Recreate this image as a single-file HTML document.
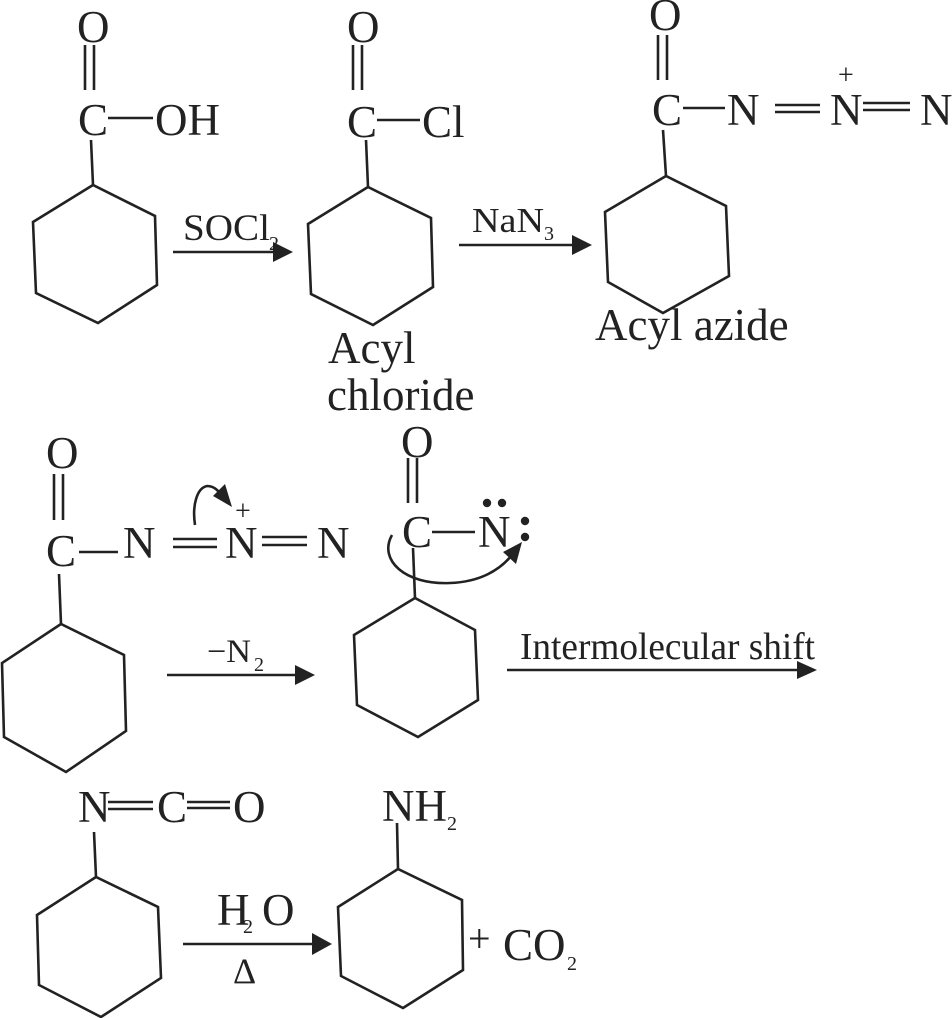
<!DOCTYPE html>
<html><head><meta charset="utf-8"><style>
html,body{margin:0;padding:0;background:#fff;}
svg{display:block;}
text{font-family:"Liberation Serif",serif;fill:#222;}
</style></head><body>
<svg width="952" height="1018" viewBox="0 0 952 1018" xmlns="http://www.w3.org/2000/svg">
<g stroke="#222" stroke-width="2.6" fill="none" stroke-linejoin="miter">
<polygon points="93,185 33,222 36,293 98,323 157,285 155,216"/>
<line x1="91" y1="140" x2="93" y2="185"/>
<line x1="85" y1="45" x2="85" y2="90"/><line x1="94" y1="45" x2="94" y2="90"/>
<line x1="108" y1="118" x2="153" y2="118"/>
<line x1="173" y1="252" x2="276" y2="252"/>
<polygon points="368,187 308,224 311,294 373,325 433,287 431,218"/>
<line x1="366" y1="140" x2="368" y2="187"/>
<line x1="353" y1="45" x2="353" y2="90"/><line x1="362" y1="45" x2="362" y2="90"/>
<line x1="377" y1="120" x2="420" y2="120"/>
<line x1="459" y1="245" x2="574" y2="245"/>
<polygon points="666,176 605,212 608,282 663,313 729,276 726,206"/>
<line x1="663" y1="130" x2="666" y2="176"/>
<line x1="658" y1="35" x2="658" y2="80"/><line x1="667" y1="35" x2="667" y2="80"/>
<line x1="683" y1="108" x2="725" y2="108"/>
<line x1="775" y1="105" x2="820" y2="105"/><line x1="775" y1="112" x2="820" y2="112"/>
<line x1="863" y1="103" x2="910" y2="103"/><line x1="863" y1="110" x2="910" y2="110"/>
<polygon points="61,624 2,663 4,737 66,772 126,731 124,655"/>
<line x1="59" y1="574" x2="61" y2="624"/>
<line x1="54" y1="474" x2="54" y2="520"/><line x1="63" y1="474" x2="63" y2="520"/>
<line x1="79" y1="552" x2="118" y2="552"/>
<line x1="173" y1="539" x2="217" y2="539"/><line x1="173" y1="547" x2="217" y2="547"/>
<line x1="262" y1="537" x2="307" y2="537"/><line x1="262" y1="545" x2="307" y2="545"/>
<path d="M195,525 C192,505 197,488 207,486 C215,486 220,492 222,498"/>
<line x1="167" y1="675" x2="297" y2="675"/>
<polygon points="415,598 354,635 357,705 418,737 478,700 475,630"/>
<line x1="413" y1="548" x2="415" y2="598"/>
<line x1="408" y1="458" x2="408" y2="503"/><line x1="417" y1="458" x2="417" y2="503"/>
<line x1="432" y1="532" x2="475" y2="532"/>
<path d="M392,535 C378,560 405,585 450,583 C480,582 500,570 512,555"/>
<line x1="507" y1="670" x2="800" y2="670"/>
<polygon points="96,877 37,915 39,985 101,1017 161,978 158,907"/>
<line x1="94" y1="832" x2="96" y2="877"/>
<line x1="108" y1="802" x2="153" y2="802"/><line x1="108" y1="809" x2="153" y2="809"/>
<line x1="187" y1="802" x2="230" y2="802"/><line x1="187" y1="808" x2="230" y2="808"/>
<line x1="183" y1="944" x2="316" y2="944"/>
<polygon points="398,869 338,907 341,976 403,1008 463,970 462,900"/>
<line x1="397" y1="823" x2="398" y2="869"/>
</g>
<g fill="#222">
<polygon points="293,252 273,242 273,262"/>
<polygon points="592,245 572,235 572,255"/>
<polygon points="315,675 295,665 295,685"/>
<polygon points="817,670 797,661 797,679"/>
<polygon points="332,944 312,933 312,955"/>
<polygon points="232,507 213,496 225,484"/>
<polygon points="522,542 503,552 516,564"/>
<circle cx="487" cy="503" r="4.2"/><circle cx="502" cy="503" r="4.2"/>
<circle cx="525" cy="521" r="4.2"/><circle cx="525" cy="537" r="4.2"/>
</g>
<g font-size="45">
<text x="77" y="42">O</text><text x="78" y="135">C</text><text x="155" y="135">OH</text>
<text x="347" y="42">O</text><text x="347" y="137">C</text><text x="422" y="137">Cl</text>
<text x="649" y="30">O</text><text x="652" y="125">C</text><text x="727" y="125">N</text><text x="830" y="125">N</text><text x="920" y="125">N</text>
<text x="46" y="468">O</text><text x="46" y="566">C</text><text x="123" y="558">N</text><text x="225" y="558">N</text><text x="317" y="558">N</text>
<text x="401" y="457">O</text><text x="402" y="547">C</text><text x="478" y="547">N</text>
<text x="78" y="822">N</text><text x="157" y="822">C</text><text x="233" y="822">O</text>
<text x="382" y="821">NH</text>
<text x="217" y="925">H</text><text x="262" y="925">O</text>
<text x="503" y="960">CO</text>
<text x="328" y="363">Acyl</text>
<text x="327" y="410">chloride</text>
<text x="595" y="340">Acyl azide</text>
<text x="233" y="983" font-size="36">Δ</text>
</g>
<g font-size="28">
<text x="838" y="84">+</text>
<text x="235" y="520">+</text>
<text x="468" y="952" font-size="40">+</text>
<text x="183" y="240" font-size="37" textLength="87" lengthAdjust="spacingAndGlyphs">SOCl</text>
<text x="472" y="232" font-size="35" textLength="72" lengthAdjust="spacingAndGlyphs">NaN</text>
<text x="207" y="662" font-size="33" textLength="44" lengthAdjust="spacingAndGlyphs">−N</text>
<text x="520" y="659" font-size="38" textLength="295" lengthAdjust="spacingAndGlyphs">Intermolecular shift</text>
</g>
<g font-size="20">
<text x="269" y="250">2</text>
<text x="544" y="240">3</text>
<text x="254" y="671">2</text>
<text x="243" y="933">2</text>
<text x="447" y="830">2</text>
<text x="567" y="970">2</text>
</g>
</svg>
</body></html>
